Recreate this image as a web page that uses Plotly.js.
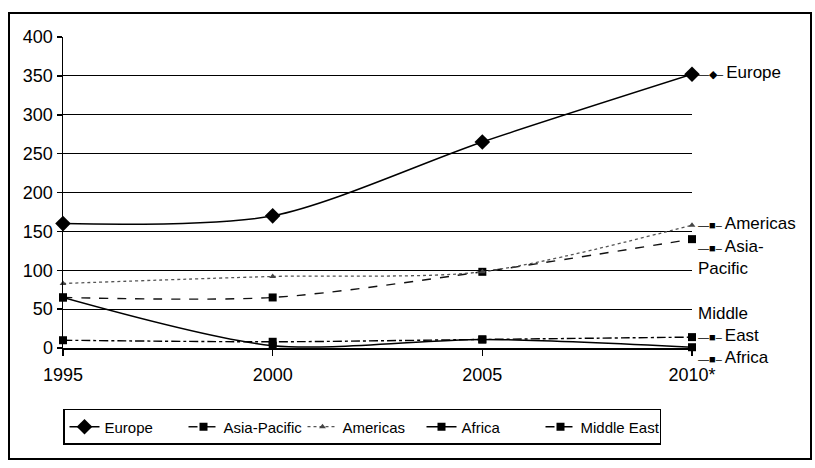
<!DOCTYPE html>
<html>
<head>
<meta charset="utf-8">
<script src="https://cdn.plot.ly/plotly-3.0.1.min.js"></script>
<style>
  html, body { margin:0; padding:0; background:#fff; }
  #wrap { position:relative; width:815px; height:468px; }
  #chart { width:815px; height:468px; }
  #frame { position:absolute; left:8px; top:12px; width:800px; height:444px;
           border:2px solid #000; pointer-events:none; }
</style>
</head>
<body>
<div id="wrap">
  <div id="chart"></div>
  <div id="frame"></div>
</div>
<script>
// ---- data ----
const years = [1995, 2000, 2005, 2010];
const tickLabels = ["1995", "2000", "2005", "2010*"];
const europe = [160, 170, 265, 352];
const asiaPacific = [65, 65, 98, 140];
const americas = [83, 92, 98, 158];
const africa = [65, 3, 11, 1];
const middleEast = [10, 8, 11, 14];

const FONT = "Liberation Sans, Arial, sans-serif";

function tr(name, y, opts) {
  return Object.assign({
    type: "scatter", mode: "lines+markers", name: name, x: years, y: y,
    line: { color: "#000", width: 1.5, shape: "spline", smoothing: 0.8 },
    marker: { color: "#000", size: 8, symbol: "square" },
    cliponaxis: false
  }, opts);
}

const data = [
  tr("Europe", europe, { marker: { color: "#000", size: 12, symbol: "diamond" } }),
  tr("Asia-Pacific", asiaPacific, { line: { color: "#111", width: 1.4, dash: "dash", shape: "spline", smoothing: 0.8 } }),
  tr("Americas", americas, { line: { color: "#555", width: 1.3, dash: "dot", shape: "spline", smoothing: 0.8 },
                             marker: { color: "#444", size: 6, symbol: "triangle-up" } }),
  tr("Africa", africa, {}),
  tr("Middle East", middleEast, { line: { color: "#000", width: 1.4, dash: "dashdot", shape: "spline", smoothing: 0.8 } })
];

function key(sym) { return "<span style='font-size:11px'>\u2014" + sym + "\u2013 </span>"; }

const annotations = [
  { x: 2010, y: europe[3], text: key("\u25C6") + "Europe", yshift: 2 },
  { x: 2010, y: americas[3], text: key("\u25A0") + "Americas", yshift: 2 },
  { x: 2010, y: asiaPacific[3], text: key("\u25A0") + "Asia-<br>Pacific", yshift: -18 },
  { x: 2010, y: middleEast[3], text: "Middle<br>" + key("\u25A0") + "East", yshift: 13 },
  { x: 2010, y: africa[3], text: key("\u25A0") + "Africa", yshift: -10 }
].map(a => Object.assign({
  xref: "x", yref: "y", showarrow: false, xanchor: "left", yanchor: "middle", xshift: 4, align: "left",
  font: { family: FONT, size: 17, color: "#000" }
}, a));

const layout = {
  width: 815, height: 468,
  margin: { l: 63, r: 123, t: 37, b: 120, autoexpand: false },
  paper_bgcolor: "#fff", plot_bgcolor: "#fff",
  font: { family: FONT, color: "#000", size: 18 },
  showlegend: true,
  legend: {
    orientation: "h", x: 0, xanchor: "left", y: -0.196, yanchor: "top",
    bordercolor: "#000", borderwidth: 1.5, bgcolor: "#fff",
    font: { family: FONT, size: 15, color: "#000" },
    itemwidth: 30, tracegroupgap: 0, entrywidth: 74, entrywidthmode: "pixels"
  },
  xaxis: {
    range: [1995, 2010], tickvals: years, ticktext: tickLabels,
    showgrid: false, zeroline: false, showline: true, linecolor: "#000", linewidth: 1.5,
    ticks: "outside", ticklen: 6, tickcolor: "#000", tickwidth: 1.5,
    tickfont: { family: FONT, size: 18, color: "#000" }, ticklabelstandoff: 4
  },
  yaxis: {
    range: [0, 400], dtick: 50, showgrid: true, gridcolor: "#000", gridwidth: 1,
    zeroline: false, showline: true, linecolor: "#000", linewidth: 1.5,
    ticks: "outside", ticklen: 5, tickcolor: "#000", tickwidth: 1.5,
    tickfont: { family: FONT, size: 18, color: "#000" }, ticklabelstandoff: 0
  },
  annotations: annotations
};

Plotly.newPlot("chart", data, layout, { displayModeBar: false, staticPlot: true });
</script>
</body>
</html>
